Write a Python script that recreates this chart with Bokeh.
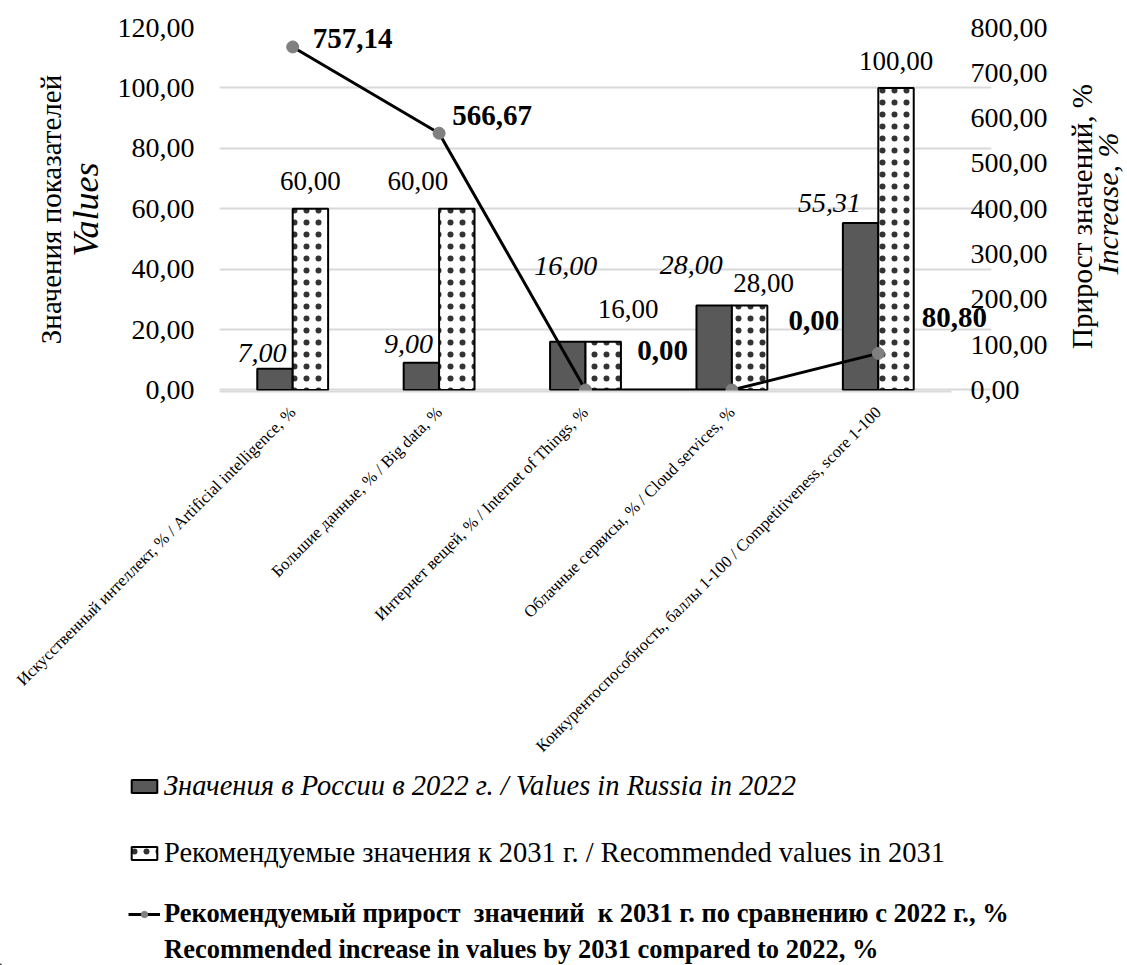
import math
from bokeh.plotting import figure
from bokeh.layouts import column, row
from bokeh.models import (ColumnDataSource, Range1d, LinearAxis, FixedTicker,
                          CustomJSTickFormatter, Legend, LegendItem)
from bokeh.transform import dodge
from bokeh.core.properties import value
from bokeh.embed import file_html
from bokeh.resources import INLINE

# ---------------- data ----------------
categories = [
    "Искусственный интеллект, % / Artificial intelligence, %",
    "Большие данные, % / Big data, %",
    "Интернет вещей, % / Internet of Things, %",
    "Облачные сервисы, % / Cloud services, %",
    "Конкурентоспособность, баллы 1-100 / Competitiveness, score 1-100",
]
russia_2022 = [7.00, 9.00, 16.00, 28.00, 55.31]
recommended_2031 = [60.00, 60.00, 16.00, 28.00, 100.00]
increase_pct = [757.14, 566.67, 0.00, 0.00, 80.80]

left_ticks = [0, 20, 40, 60, 80, 100, 120]
right_ticks = [0, 100, 200, 300, 400, 500, 600, 700, 800]

name_russia = "Значения в России в 2022 г. / Values in Russia in 2022"
name_recommended = "Рекомендуемые значения к 2031 г. / Recommended values in 2031"
name_increase_1 = "Рекомендуемый прирост  значений  к 2031 г. по сравнению с 2022 г., %"
name_increase_2 = "Recommended increase in values by 2031 compared to 2022, %"

left_title_1 = "Значения показателей"
left_title_2 = "Values"
right_title_1 = "Прирост значений, %"
right_title_2 = "Increase, %"

# ---------------- layout of data labels (pixel offsets, screen y down) ----------------
russia_dx = [-13, -13, -2, -23, -31]
russia_dy = [-16, -19, -76, -40, -20]
rec_dx = [0, -39, 25, 14, 0]
rec_dy = [-28, -28, -33, -22, -27]
inc_dx = [60, 53, 77, 82, 76]
inc_dy = [-8, -18, -39, -69, -36]

FONT = "Liberation Serif"
BW = 0.242
DARK = "#595959"
GRID = "#d9d9d9"


def fmt(v):
    return f"{v:.2f}".replace(".", ",")


n = len(categories)
xc = [i + 0.5 for i in range(n)]          # category centres on the axis scale

src = ColumnDataSource(dict(
    xc=xc,
    russia=russia_2022,
    rec=recommended_2031,
    inc=increase_pct,
    russia_txt=[fmt(v) for v in russia_2022],
    rec_txt=[fmt(v) for v in recommended_2031],
    inc_txt=[fmt(v) for v in increase_pct],
    rdx=russia_dx, rdy=russia_dy,
    cdx=rec_dx, cdy=rec_dy,
    idx=inc_dx, idy=inc_dy,
))

# geometry (page pixels)
TOP, FRAME_H, LEFT, FRAME_W, RIGHT = 27, 364, 219, 772, 70
BOTTOM = 372
CAT_PX = 146.4
LMAX, RMAX = 120, 800
pad = 0.5

p = figure(x_range=Range1d(0, FRAME_W / CAT_PX),
           y_range=Range1d(-pad, LMAX),
           frame_width=FRAME_W, frame_height=FRAME_H,
           min_border_left=LEFT, min_border_right=RIGHT,
           min_border_top=TOP, min_border_bottom=BOTTOM,
           output_backend="svg", toolbar_location=None)
p.extra_y_ranges = {"inc": Range1d(-pad * RMAX / LMAX, RMAX)}
p.outline_line_color = None
p.background_fill_color = "white"

fmt_js = CustomJSTickFormatter(code="return tick.toFixed(2).replace('.', ',');")

# left axis
yl = p.yaxis[0]
yl.ticker = FixedTicker(ticks=left_ticks)
yl.formatter = fmt_js
yl.axis_line_color = None
yl.major_tick_line_color = None
yl.minor_tick_line_color = None
yl.major_label_text_font = FONT
yl.major_label_text_font_size = "28px"
yl.major_label_text_color = "black"
yl.major_label_standoff = 19
yl.axis_label = left_title_2
yl.axis_label_text_font = FONT
yl.axis_label_text_font_style = "italic"
yl.axis_label_text_font_size = "36px"
yl.axis_label_text_color = "black"
yl.axis_label_standoff = 9

yl2 = LinearAxis(ticker=FixedTicker(ticks=[]), axis_line_color=None,
                 major_tick_line_color=None, minor_tick_line_color=None,
                 major_tick_out=0, major_label_standoff=0,
                 axis_label=left_title_1, axis_label_text_font=FONT,
                 axis_label_text_font_style="normal", axis_label_text_font_size="29px",
                 axis_label_text_color="black", axis_label_standoff=-4)
p.add_layout(yl2, "left")

# right axis (tick labels pulled slightly over the plot area, as in the original)
yr = LinearAxis(y_range_name="inc", ticker=FixedTicker(ticks=right_ticks), formatter=fmt_js,
                axis_line_color=None, major_tick_line_color=None, minor_tick_line_color=None,
                major_tick_out=0,
                major_label_text_font=FONT, major_label_text_font_size="28px",
                major_label_text_color="black", major_label_standoff=-21)
p.add_layout(yr, "right")

# x axis with category names
xa = p.xaxis[0]
xa.ticker = FixedTicker(ticks=xc)
xa.major_label_overrides = {x: c for x, c in zip(xc, categories)}
xa.bounds = (0, n)
xa.axis_line_color = GRID
xa.axis_line_width = 2
xa.major_tick_line_color = None
xa.minor_tick_line_color = None
xa.major_label_orientation = math.pi / 4
xa.major_label_text_font = FONT
xa.major_label_text_font_size = "16.7px"
xa.major_label_standoff = 12
xa.major_label_text_color = "black"

p.xgrid.visible = False
p.ygrid.grid_line_color = GRID
p.ygrid.grid_line_width = 2
p.ygrid.bounds = (0, n)

bar_dark = dict(fill_color=DARK, line_color="black", line_width=2)
bar_dot = dict(fill_color="white", line_color="black", line_width=2,
               hatch_pattern="dot", hatch_color="black", hatch_alpha=0.8,
               hatch_scale=12, hatch_weight=0.3)

# bars
p.vbar(x=dodge("xc", -BW / 2), top="russia", width=BW, source=src, **bar_dark)
p.vbar(x=dodge("xc", BW / 2), top="rec", width=BW, source=src, **bar_dot)

# line
line_style = dict(line_color="black", line_width=3)
pt_style = dict(size=12, fill_color="#808080", line_color="#808080")
p.line(x="xc", y="inc", source=src, y_range_name="inc", **line_style)
p.scatter(x="xc", y="inc", source=src, y_range_name="inc", **pt_style)

# data labels
p.text(x=dodge("xc", -BW / 2), y="russia", text="russia_txt", source=src,
       x_offset="rdx", y_offset="rdy", text_align="center", text_baseline="middle",
       text_font=value(FONT), text_font_size="28px", text_font_style="italic", text_color="black")
p.text(x=dodge("xc", BW / 2), y="rec", text="rec_txt", source=src,
       x_offset="cdx", y_offset="cdy", text_align="center", text_baseline="middle",
       text_font=value(FONT), text_font_size="27px", text_font_style="normal", text_color="black")
p.text(x="xc", y="inc", text="inc_txt", source=src, y_range_name="inc",
       x_offset="idx", y_offset="idy", text_align="center", text_baseline="middle",
       text_font=value(FONT), text_font_size="29px", text_font_style="bold", text_color="black")

# ---------------- right-hand axis titles (reading bottom to top) ----------------
PW = LEFT + FRAME_W + RIGHT
TW = 65
tf = figure(frame_width=TW, frame_height=FRAME_H,
            min_border_left=0, min_border_right=0,
            min_border_top=TOP, min_border_bottom=BOTTOM,
            x_range=Range1d(PW, PW + TW), y_range=Range1d(TOP + FRAME_H, TOP),
            output_backend="svg", toolbar_location=None,
            x_axis_type=None, y_axis_type=None)
tf.grid.visible = False
tf.outline_line_color = None
tf.text(x=[PW + 20], y=[216], text=[right_title_1], angle=math.pi / 2,
        text_align="center", text_baseline="middle", text_font=value(FONT),
        text_font_size="29px", text_font_style="normal", text_color="black")
tf.text(x=[PW + 46], y=[203], text=[right_title_2], angle=math.pi / 2,
        text_align="center", text_baseline="middle", text_font=value(FONT),
        text_font_size="30px", text_font_style="italic", text_color="black")

# ---------------- legend strip ----------------
LW, LH = PW + TW, 200
lf = figure(width=LW, height=LH, x_range=Range1d(0, LW), y_range=Range1d(0, LH),
            min_border=0, output_backend="svg", toolbar_location=None,
            x_axis_type=None, y_axis_type=None)
lf.grid.visible = False
lf.outline_line_color = None
# legend proxies (placed outside the visible range)
lr1 = lf.vbar(x=[-50], top=[1], width=1, **bar_dark)
lr2 = lf.vbar(x=[-50], top=[1], width=1, **bar_dot)
lr3 = lf.line(x=[-60, -50], y=[1, 1], **line_style)
lr4 = lf.scatter(x=[-50], y=[1], **pt_style)
lr5 = lf.line(x=[-60, -50], y=[1, 1], line_alpha=0)


def make_legend(items, style, size, loc, spacing=0):
    return Legend(items=items, location=loc, orientation="vertical",
                  label_text_font=FONT, label_text_font_size=size,
                  label_text_font_style=style, label_text_color="black",
                  glyph_width=32, glyph_height=16, label_standoff=4,
                  padding=0, margin=0, spacing=spacing,
                  border_line_color=None, background_fill_alpha=0)


lg1 = make_legend([LegendItem(label=name_russia, renderers=[lr1])], "italic", "28.5px", (128, 163))
lg2 = make_legend([LegendItem(label=name_recommended, renderers=[lr2])], "normal", "28.5px", (128, 96))
lg3 = make_legend([LegendItem(label=name_increase_1, renderers=[lr3, lr4]),
                   LegendItem(label=name_increase_2, renderers=[lr5])], "bold", "26.5px", (128, 0),
                  spacing=5)
for lg in (lg1, lg2, lg3):
    lf.add_layout(lg, "center")

layout = column(row(p, tf, spacing=0), lf, spacing=0)
open("out.html", "w").write(file_html(layout, INLINE))
